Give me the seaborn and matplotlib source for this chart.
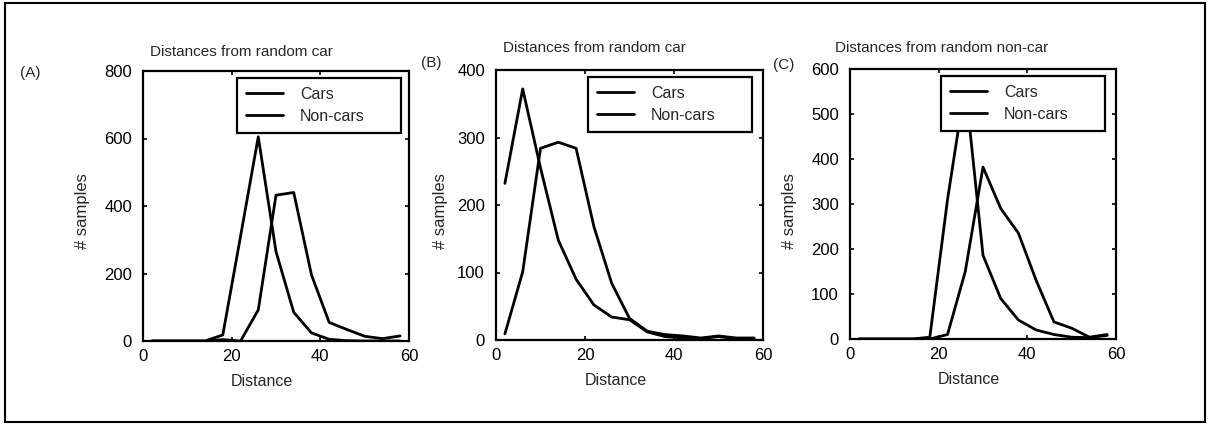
import matplotlib
matplotlib.use("Agg")
import matplotlib.pyplot as plt
from matplotlib.patches import Rectangle
import seaborn as sns
import pandas as pd

# Bin centres (distance), shared by all three panels
distance = [2, 6, 10, 14, 18, 22, 26, 30, 34, 38, 42, 46, 50, 54, 58]

# (A) distances from a random car
a_cars = [0, 0, 0, 0, 18, 310, 605, 265, 85, 24, 5, 1, 0, 0, 0]
a_noncars = [0, 0, 0, 0, 4, 0, 92, 432, 440, 196, 55, 34, 14, 7, 15]

# (B) distances from a random car
b_cars = [232, 372, 255, 148, 90, 52, 34, 30, 12, 5, 3, 2, 5, 2, 2]
b_noncars = [9, 101, 284, 293, 284, 168, 84, 32, 13, 8, 6, 3, 6, 3, 3]

# (C) distances from a random non-car
c_cars = [0, 0, 0, 0, 4, 310, 565, 186, 90, 42, 20, 10, 4, 3, 8]
c_noncars = [0, 0, 0, 0, 0, 10, 150, 382, 290, 235, 130, 38, 24, 4, 10]

titles = ["Distances from random car", "Distances from random car",
          "Distances from random non-car"]
panel_tags = ["(A)", "(B)", "(C)"]
series_names = ["Cars", "Non-cars"]
y_limits = [800, 400, 600]
y_steps = [200, 100, 100]
x_ticks = [0, 20, 40, 60]

sns.set_theme(style="white")
plt.rcParams["font.family"] = ["Liberation Sans", "DejaVu Sans"]
plt.rcParams["axes.edgecolor"] = "black"
plt.rcParams["axes.linewidth"] = 1.6

W, H = 1209, 425
fig = plt.figure(figsize=(W / 100, H / 100), dpi=100)

# axes rectangles in pixels: left, right, top, bottom
boxes = [(143, 409, 71, 341), (496, 763, 70, 340), (850, 1116, 69, 339)]
title_pos = [(150, 52), (503, 48), (835, 48)]
tag_pos = [(20, 73), (421, 63), (773, 65)]
ylabel_x = [83, 440, 790]
legend_left = [237, 588, 941]

panels = [(a_cars, a_noncars), (b_cars, b_noncars), (c_cars, c_noncars)]

for i, (cars, noncars) in enumerate(panels):
    l, r, t, b = boxes[i]
    ax = fig.add_axes([l / W, 1 - b / H, (r - l) / W, (b - t) / H])
    df = pd.DataFrame({
        "Distance": distance * 2,
        "count": cars + noncars,
        "group": [series_names[0]] * len(distance) + [series_names[1]] * len(distance),
    })
    sns.lineplot(data=df, x="Distance", y="count", hue="group",
                 palette=["black", "black"], linewidth=2.0, ax=ax)
    ax.set_xlim(0, 60)
    ax.set_ylim(0, y_limits[i])
    ax.set_xticks(x_ticks)
    ax.set_yticks(list(range(0, y_limits[i] + 1, y_steps[i])))
    ax.tick_params(direction="in", length=3, width=1.2, top=True, right=True,
                   bottom=True, left=True, labelsize=12, pad=6,
                   colors="black")
    ax.tick_params(axis="y", pad=8)
    ax.set_xlabel("Distance", fontsize=11.5)
    # x label sits a little left of the axes centre
    ax.xaxis.set_label_coords(0.5 - 14 / (r - l), -33 / (b - t))
    ax.set_ylabel("")
    for s in ax.spines.values():
        s.set_visible(True)
        s.set_color("black")
        s.set_linewidth(1.6)

    leg_l = (legend_left[i] - l) / (r - l)
    leg_top = 1 - 7 / (b - t)
    leg = ax.legend(loc="upper left",
                    bbox_to_anchor=(leg_l, leg_top - 0.2, 164 / (r - l), 0.2),
                    mode="expand", borderaxespad=0, fontsize=11.5,
                    frameon=True, fancybox=False, framealpha=1,
                    edgecolor="black", handlelength=2.3, handletextpad=1.1,
                    labelspacing=0.45, borderpad=0.55, title=None)
    leg.get_frame().set_linewidth(1.6)

    fig.text(title_pos[i][0] / W, 1 - title_pos[i][1] / H, titles[i],
             fontsize=11, ha="left", va="center")
    fig.text(tag_pos[i][0] / W, 1 - tag_pos[i][1] / H, panel_tags[i],
             fontsize=11, ha="left", va="center")
    fig.text(ylabel_x[i] / W, 1 - 211 / H, "# samples", fontsize=12,
             rotation=90, ha="center", va="center")

# thin frame around the whole figure
fig.patches.append(Rectangle((5 / W, 3 / H), 1200 / W, 419 / H,
                             transform=fig.transFigure, fill=False,
                             edgecolor="black", linewidth=1.5))

fig.savefig("out.png", dpi=100)
